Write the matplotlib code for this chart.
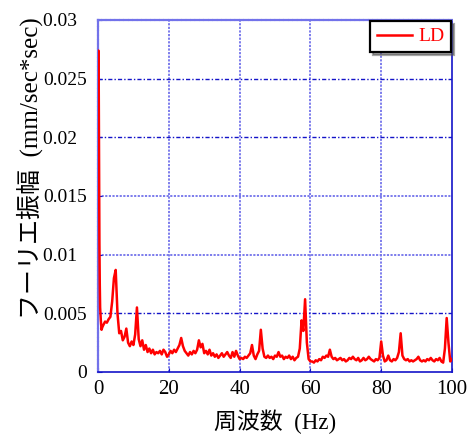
import numpy as np
import matplotlib
matplotlib.use("Agg")
import matplotlib.pyplot as plt

# ---- data ----
freq_head = [0.0, 0.1, 0.2, 0.3, 0.4, 0.5, 0.6, 0.8, 1.0, 1.2]
amp_head = [0.0172, 0.0274, 0.0250, 0.0180, 0.0110, 0.0075, 0.0055, 0.0044, 0.0036, 0.0038]

freq_tail = np.arange(1.5, 100.01, 0.5)
amp_1_20 = [0.0040, 0.0043, 0.0042, 0.0045, 0.0047, 0.0060, 0.0080, 0.0087, 0.0050, 0.0033,
            0.0035, 0.0027, 0.0030, 0.0037, 0.0025, 0.0022, 0.0026, 0.0023, 0.0032, 0.0055,
            0.0028, 0.0022, 0.0027, 0.0019, 0.0023, 0.0017, 0.0020, 0.0016, 0.0019, 0.0015,
            0.0017, 0.0016, 0.0018, 0.0015, 0.0019, 0.0017, 0.0013, 0.0015]
amp_20_40 = [0.0018, 0.0016, 0.0019, 0.0017, 0.0020, 0.0023, 0.0029, 0.0022, 0.0018, 0.0016,
             0.0014, 0.0017, 0.0015, 0.0018, 0.0016, 0.0019, 0.0027, 0.0021, 0.0024, 0.0016,
             0.0018, 0.0015, 0.0019, 0.0014, 0.0016, 0.0013, 0.0015, 0.0012, 0.0014, 0.0016,
             0.0013, 0.0015, 0.0017, 0.0014, 0.0012, 0.0017, 0.0013, 0.0018, 0.0014, 0.0011]
amp_40_60 = [0.0012, 0.0011, 0.0013, 0.0012, 0.0014, 0.0016, 0.0023, 0.0014, 0.0011, 0.0015,
             0.0018, 0.0036, 0.0020, 0.0013, 0.0012, 0.0014, 0.0012, 0.0013, 0.0011, 0.0014,
             0.0013, 0.0017, 0.0013, 0.0014, 0.0011, 0.0013, 0.0012, 0.0014, 0.0011, 0.0013,
             0.0010, 0.0012, 0.0013, 0.0020, 0.0044, 0.0035, 0.0062, 0.0025, 0.0011, 0.0009]
amp_60_80 = [0.0009, 0.0008, 0.0010, 0.0009, 0.0011, 0.0010, 0.0013, 0.0012, 0.0014, 0.0013,
             0.0019, 0.0013, 0.0011, 0.0012, 0.0010, 0.0011, 0.0012, 0.0010, 0.0011, 0.0009,
             0.0010, 0.0012, 0.0011, 0.0013, 0.0011, 0.0010, 0.0012, 0.0009, 0.0010, 0.0012,
             0.0010, 0.0011, 0.0013, 0.0011, 0.0010, 0.0009, 0.0011, 0.0010, 0.0012, 0.0026]
amp_80_100 = [0.0014, 0.0009, 0.0010, 0.0014, 0.0010, 0.0009, 0.0011, 0.0010, 0.0012, 0.0017,
              0.0033, 0.0014, 0.0011, 0.0010, 0.0011, 0.0009, 0.0010, 0.0009, 0.0010, 0.0011,
              0.0013, 0.0010, 0.0009, 0.0010, 0.0009, 0.0011, 0.0010, 0.0012, 0.0010, 0.0009,
              0.0011, 0.0010, 0.0012, 0.0009, 0.0008, 0.0020, 0.0046, 0.0025, 0.0009, 0.0011]

freq = np.concatenate([freq_head, freq_tail])
amp = np.array(amp_head + amp_1_20 + amp_20_40 + amp_40_60 + amp_60_80 + amp_80_100)

xticks = [0, 20, 40, 60, 80, 100]
yticks = [0, 0.005, 0.01, 0.015, 0.02, 0.025, 0.03]
ytick_labels = ["0", "0.005", "0.01\u2007", "0.015", "0.02\u2007", "0.025", "0.03\u2007"]
series_name = "LD"
xlabel = "周波数  (Hz)"
ylabel = "フーリエ振幅  (mm/sec*sec)"

# ---- figure ----
serif = ["Liberation Serif", "Noto Sans CJK JP", "DejaVu Sans"]
plt.rcParams["font.family"] = serif

fig = plt.figure(figsize=(4.69, 4.34), dpi=100)
ax = fig.add_axes([98/469, 62/434, 354/469, 352/434])

dark_blue = "#1414c8"
light_blue = "#7272ea"

# grid
for xv in xticks[1:-1]:
    ax.axvline(xv, color=light_blue, lw=1.3, ls=(0, (1.2, 0.8)), zorder=1)
for yv in yticks[1:-1]:
    if yv in (0.01, 0.015):
        ax.axhline(yv, color=light_blue, lw=1.3, ls=(0, (1.2, 0.8)), zorder=1)
    else:
        ax.axhline(yv, color=dark_blue, lw=1.0, ls=(0, (3, 1.5, 1, 1.5)), zorder=1)

ax.plot(freq, amp, color="#ff0000", lw=1.8, label=series_name, zorder=3)

ax.set_xlim(0, 100)
ax.set_ylim(0, 0.03)
ax.set_xticks(xticks)
ax.set_yticks(yticks)
ax.set_yticklabels(ytick_labels)
ax.tick_params(direction="in", length=3, color=dark_blue)
ax.tick_params(axis="y", labelsize=14, pad=8)
ax.tick_params(axis="x", labelsize=15, pad=6)

for side in ("bottom", "right"):
    ax.spines[side].set_color(dark_blue)
    ax.spines[side].set_linewidth(1.2)
for side in ("top", "left"):
    ax.spines[side].set_color(light_blue)
    ax.spines[side].set_linewidth(1.6)
    ax.spines[side].set_linestyle((0, (1.2, 0.8)))

ax.set_xlabel(xlabel, fontsize=16.5, family=serif, labelpad=7)
ax.set_ylabel(ylabel, fontsize=18, family=serif)
ax.yaxis.set_label_coords(-0.155, 0.58)

leg = ax.legend(loc="upper right", fontsize=14, frameon=True, fancybox=False,
                shadow=True, borderaxespad=0.05, handlelength=1.8,
                handletextpad=0.3, borderpad=0.35, labelcolor="#ff0000")
leg.get_frame().set_edgecolor("black")
leg.get_frame().set_linewidth(1.6)
leg.get_frame().set_alpha(1)

fig.savefig("out.png", dpi=100)
